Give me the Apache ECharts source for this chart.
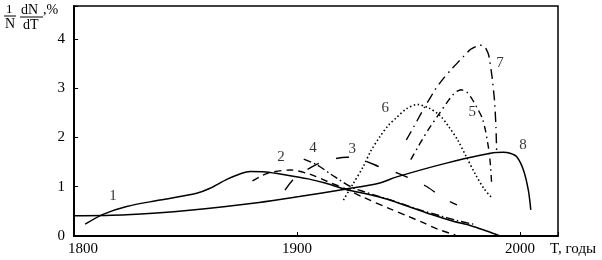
<!DOCTYPE html>
<html><head><meta charset="utf-8">
<script src="https://cdn.jsdelivr.net/npm/echarts@6/dist/echarts.min.js"></script>
<style>html,body{margin:0;padding:0;background:#fff}#c{width:602px;height:260px}</style>
</head><body><div id="c"></div>
<script>
const xTicks = [1800, 1900, 2000];
const yTicks = [0, 1, 2, 3, 4];
const curve1 = [[1805,0.24],[1813,0.44],[1823.6,0.60],[1838.6,0.73],[1855,0.87],[1861,0.97],[1868.5,1.15],[1874.4,1.26],[1879,1.31],[1886,1.30],[1895,1.24],[1905,1.16],[1913,1.07],[1921.5,0.95],[1937,0.79],[1950,0.60],[1960,0.44],[1970,0.30],[1978,0.21],[1985,0.10],[1991,0.0]];
const curve2 = [[1880,1.12],[1884,1.22],[1888,1.29],[1897,1.34],[1906,1.25],[1914,1.10],[1921,0.97],[1930,0.78],[1941.7,0.55],[1949.3,0.41],[1956,0.28],[1963,0.14],[1971,0.02]];
const curve3 = [[1894.6,0.93],[1899,1.18],[1909,1.46],[1915,1.55],[1922.4,1.60],[1929.6,1.54],[1937.2,1.40],[1944.8,1.28],[1952,1.14],[1958.3,1.0],[1965.5,0.77],[1971.7,0.63]];
const curve4 = [[1903,1.56],[1909,1.44],[1917,1.20],[1924,1.0],[1930,0.90],[1937,0.80],[1946,0.67],[1955,0.53],[1965,0.40],[1972,0.31],[1979,0.24]];
const curve5 = [[1951,1.55],[1955,1.87],[1959,2.17],[1964,2.50],[1968,2.76],[1971,2.92],[1973.5,2.97],[1976,2.93],[1978.5,2.78],[1981,2.58],[1983,2.40],[1984.5,2.14],[1985.8,1.80],[1986.6,1.50],[1987.2,1.10]];
const curve6 = [[1920.8,0.73],[1925,1.05],[1929.7,1.41],[1933,1.72],[1937.2,2.02],[1941,2.25],[1944.5,2.40],[1949,2.58],[1954,2.67],[1959,2.60],[1964,2.45],[1968,2.22],[1972,1.95],[1976,1.60],[1980,1.25],[1984,0.95],[1987.5,0.77]];
const curve7 = [[1949,1.95],[1951,2.11],[1957,2.60],[1962.3,3.0],[1966,3.22],[1969.5,3.40],[1973.7,3.60],[1977.5,3.78],[1982,3.88],[1984.5,3.82],[1986,3.66],[1987.5,3.21],[1988.6,2.72],[1989.2,2.20],[1989.5,1.69]];
const curve8 = [[1800,0.41],[1823.6,0.43],[1853,0.53],[1883,0.68],[1901,0.80],[1921.5,0.95],[1936.7,1.07],[1944.7,1.20],[1967,1.48],[1988,1.69],[1992.5,1.70],[1995.5,1.68],[1998.5,1.61],[2001.5,1.34],[2003.7,0.93],[2004.8,0.53]];
const labelNames = ['1','2','4','3','6','5','7','8'];
const labelYears = [1817.5,1892.8,1907.2,1924.7,1939.5,1978.5,1991,2001.3];
const labelValues = [0.81,1.61,1.79,1.77,2.60,2.52,3.52,1.85];

const SERIF = 'Liberation Serif';
function line(data, type, w, s) {
  return { type:'line', data:data, showSymbol:false, smooth:(s===undefined?0.3:s), silent:true,
    lineStyle:{color:'#000', width:w||1.4, type:type}, z:3 };
}
const chart = echarts.init(document.getElementById('c'), null, {renderer:'canvas'});
chart.setOption({
  animation:false,
  grid:{left:74, right:44, top:6, bottom:24, show:true, borderColor:'#000', borderWidth:1.5, backgroundColor:'transparent'},
  xAxis:{type:'value', min:1800, max:2017, interval:100,
    axisLine:{lineStyle:{color:'#000', width:2}},
    axisTick:{inside:true, length:4, lineStyle:{color:'#000'}},
    splitLine:{show:false},
    axisLabel:{color:'#000', fontFamily:SERIF, fontSize:15, margin:6,
      formatter:function(v){ if(xTicks.indexOf(v)<0) return ''; return v===1800 ? '{a|'+v+'}' : String(v); },
      rich:{a:{fontFamily:SERIF, fontSize:15, color:'#000', padding:[0,0,0,18]}}}},
  yAxis:{type:'value', min:0, max:4.67, interval:1,
    axisLine:{show:true, lineStyle:{color:'#000', width:2}},
    axisTick:{show:true, inside:true, length:4, lineStyle:{color:'#000'}},
    splitLine:{show:false},
    axisLabel:{color:'#000', fontFamily:SERIF, fontSize:15, margin:9,
      formatter:function(v){ return yTicks.indexOf(v)<0 ? '' : String(v); }}},
  series:[
    line(curve1,'solid',1.5),
    line(curve2,[7,5]),
    line(curve3,[13,18]),
    line(curve4,[8,3,1.5,3]),
    line(curve5,[7,4,1.5,4],1.4,0.15),
    line(curve6,[1.5,2.5],1.6),
    line(curve7,[10,5,1.5,5],1.4,0.1),
    line(curve8,'solid',1.5),
    { type:'scatter', symbolSize:0, silent:true,
      data: labelNames.map(function(n,i){ return [labelYears[i], labelValues[i], n]; }),
      label:{show:true, position:'inside', color:'#000', fontFamily:SERIF, fontSize:15,
        formatter:function(p){ return p.value[2]; }} }
  ],
  graphic:[
    {type:'text', left:6, top:3, style:{text:'1', font:'13px "Liberation Serif"', fill:'#000'}},
    {type:'line', shape:{x1:4, y1:16, x2:16, y2:16}, style:{stroke:'#000', lineWidth:1}},
    {type:'text', left:5, top:17, style:{text:'N', font:'14px "Liberation Serif"', fill:'#000'}},
    {type:'text', left:21, top:3, style:{text:'dN', font:'14px "Liberation Serif"', fill:'#000'}},
    {type:'line', shape:{x1:20, y1:17, x2:43, y2:17}, style:{stroke:'#000', lineWidth:1}},
    {type:'text', left:23, top:18, style:{text:'dT', font:'14px "Liberation Serif"', fill:'#000'}},
    {type:'text', left:43, top:3, style:{text:',%', font:'14px "Liberation Serif"', fill:'#000'}},
    {type:'text', left:550, top:242, style:{text:'T, годы', font:'15px "Liberation Serif"', fill:'#000'}}
  ]
});
</script></body></html>
